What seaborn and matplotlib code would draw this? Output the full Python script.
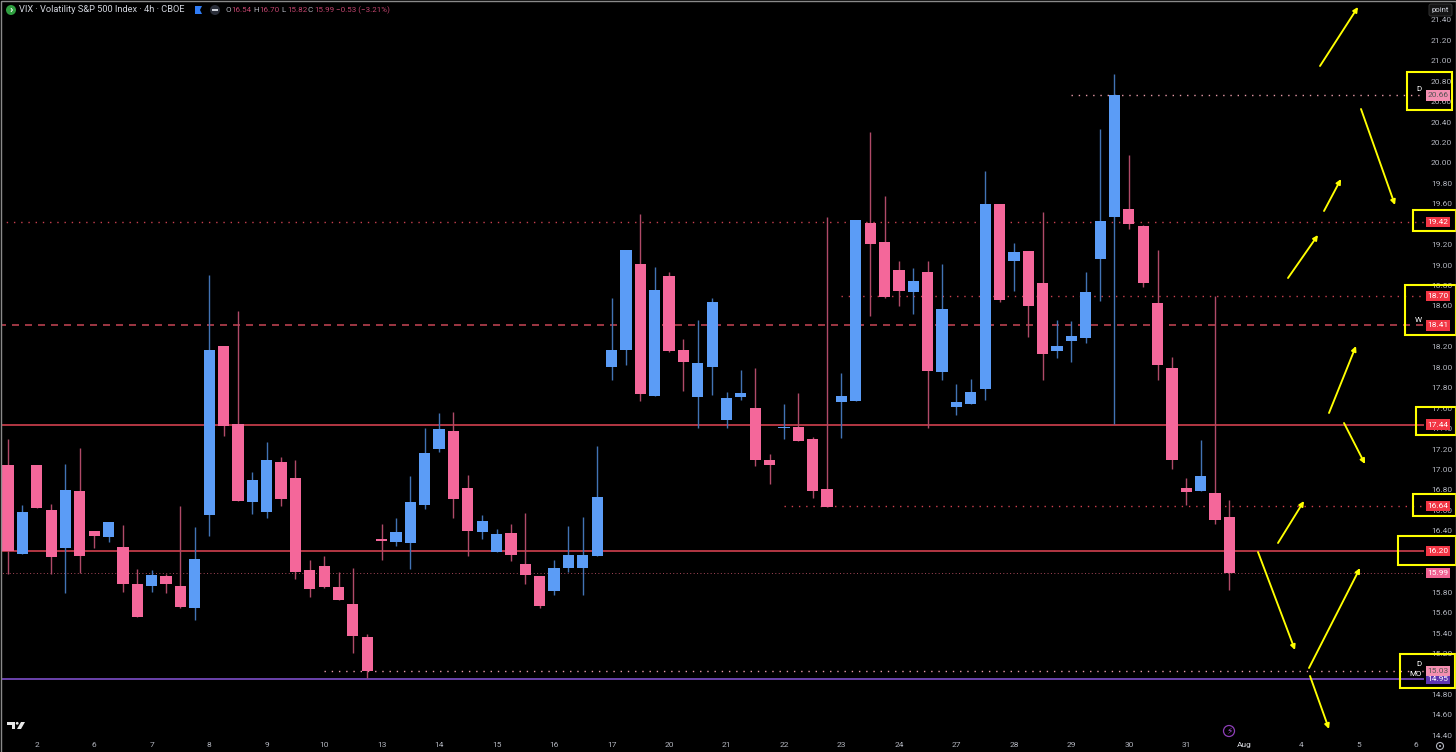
#!/usr/bin/env python

import pandas as pd
import matplotlib.pyplot as plt
import seaborn as sns

from matplotlib.patches import Rectangle, FancyArrowPatch, FancyBboxPatch, Circle, Polygon
from matplotlib.transforms import Affine2D

# VIX 4h candles
opens = [17.04, 16.17, 17.04, 16.60, 16.23, 16.79, 16.40, 16.34, 16.24, 15.88,
         15.86, 15.96, 15.86, 15.64, 16.55, 18.21, 17.45, 16.68, 16.58, 17.07,
         16.92, 16.02, 16.06, 15.85, 15.68, 15.36, 16.32, 16.29, 16.28, 16.65,
         17.20, 17.38, 16.82, 16.39, 16.19, 16.38, 16.08, 15.96, 15.81, 16.04,
         16.04, 16.15, 18.00, 18.17, 19.01, 17.72, 18.89, 18.17, 17.71, 18.00,
         17.48, 17.71, 17.60, 17.09, 17.41, 17.42, 17.30, 16.81, 17.66, 17.67,
         19.41, 19.23, 18.95, 18.74, 18.93, 17.95, 17.61, 17.64, 17.79, 19.60,
         19.04, 19.14, 18.82, 18.16, 18.26, 18.29, 19.06, 19.47, 19.55, 19.38,
         18.63, 17.99, 16.82, 16.79, 16.77, 16.54]
highs = [17.30, 16.65, 17.04, 16.66, 17.05, 17.21, 16.40, 16.49, 16.46, 16.03,
         16.02, 15.98, 16.64, 16.44, 18.90, 18.21, 18.55, 16.98, 17.27, 17.12,
         17.09, 16.11, 16.15, 16.00, 16.04, 15.39, 16.47, 16.53, 16.94, 17.41,
         17.55, 17.56, 16.95, 16.55, 16.42, 16.47, 16.57, 15.96, 16.11, 16.45,
         16.54, 17.23, 18.68, 19.15, 19.50, 18.98, 18.93, 18.28, 18.46, 18.68,
         17.76, 17.97, 17.99, 17.15, 17.64, 17.75, 17.32, 19.47, 17.94, 19.44,
         20.30, 19.68, 19.04, 18.97, 19.04, 19.01, 17.84, 17.89, 19.92, 19.60,
         19.22, 19.14, 19.52, 18.46, 18.45, 18.93, 20.33, 20.87, 20.08, 19.39,
         19.15, 18.10, 16.92, 17.29, 18.70, 16.70]
lows = [15.98, 16.17, 16.62, 15.98, 15.79, 15.99, 16.23, 16.29, 15.80, 15.56,
        15.80, 15.79, 15.64, 15.53, 16.35, 17.33, 16.69, 16.56, 16.53, 16.64,
        15.93, 15.75, 15.84, 15.72, 15.20, 14.96, 16.11, 16.25, 16.03, 16.61,
        17.17, 16.53, 16.15, 16.32, 16.19, 16.10, 15.88, 15.64, 15.77, 16.00,
        15.77, 16.15, 17.88, 18.02, 17.67, 17.72, 18.15, 17.77, 17.41, 17.73,
        17.41, 17.68, 17.03, 16.86, 17.30, 17.28, 16.72, 16.63, 17.31, 17.67,
        18.50, 18.68, 18.60, 18.52, 17.41, 17.88, 17.53, 17.64, 17.68, 18.64,
        18.75, 18.30, 17.88, 18.09, 18.05, 18.24, 18.65, 17.45, 19.35, 18.79,
        17.88, 17.00, 16.65, 16.79, 16.47, 15.82]
closes = [16.20, 16.58, 16.62, 16.14, 16.80, 16.15, 16.35, 16.49, 15.88, 15.56,
          15.97, 15.88, 15.65, 16.12, 18.17, 17.43, 16.69, 16.90, 17.09, 16.71,
          16.00, 15.83, 15.85, 15.72, 15.37, 15.03, 16.30, 16.39, 16.68, 17.16,
          17.40, 16.71, 16.40, 16.50, 16.37, 16.16, 15.97, 15.66, 16.04, 16.16,
          16.16, 16.73, 18.17, 19.15, 17.74, 18.76, 18.16, 18.05, 18.04, 18.64,
          17.70, 17.75, 17.09, 17.04, 17.42, 17.28, 16.79, 16.63, 17.72, 19.44,
          19.21, 18.69, 18.75, 18.84, 17.96, 18.57, 17.66, 17.76, 19.60, 18.66,
          19.13, 18.60, 18.13, 18.21, 18.31, 18.74, 19.43, 20.66, 19.40, 18.82,
          18.02, 17.09, 16.78, 16.94, 16.51, 15.99]

# horizontal levels
level_prices = [14.95, 15.03, 15.99, 16.20, 16.64, 17.44, 18.41, 18.70, 19.42, 20.66]
level_starts = [-1, 22, -1, -1, 54, -1, -1, 58, -1, 74]
level_kinds = ['solid', 'dots', 'fine', 'solid', 'dots', 'solid', 'dash', 'dots', 'dots', 'dots']
level_colors = ['#7e4fc9', '#e89aa8', '#a8485a', '#d0404f', '#d0404f', '#d0404f',
                '#b8404f', '#c8404f', '#c8404f', '#e89aa8']
tag_colors = ['#5e35b1', '#f48fb1', '#f06292', '#f23645', '#f23645', '#f23645',
              '#f23645', '#f23645', '#f23645', '#f48fb1']
tag_text_colors = ['white', '#555555', 'white', 'white', 'white', 'white',
                   'white', 'white', 'white', '#555555']

price_ticks = [14.4, 14.6, 14.8, 15.0, 15.2, 15.4, 15.6, 15.8, 16.0, 16.2, 16.4, 16.6,
               16.8, 17.0, 17.2, 17.4, 17.6, 17.8, 18.0, 18.2, 18.4, 18.6, 18.8, 19.0,
               19.2, 19.4, 19.6, 19.8, 20.0, 20.2, 20.4, 20.6, 20.8, 21.0, 21.2, 21.4]
# these sit fully behind a price tag in the screenshot
hidden_ticks = [15.0, 16.0, 16.2, 18.4, 19.4]
date_labels = ['2', '6', '7', '8', '9', '10', '13', '14', '15', '16', '17', '20', '21',
               '22', '23', '24', '27', '28', '29', '30', '31', 'Aug', '4', '5', '6']

BLUE = '#5b9cf6'
PINK = '#f4679a'
YELLOW = '#ffff00'
GREY = '#b2b5be'

sns.set_theme(style='dark', rc={'axes.facecolor': 'black', 'figure.facecolor': 'black',
                                'savefig.facecolor': 'black', 'axes.grid': False})
plt.rcParams['font.family'] = ['Roboto', 'DejaVu Sans']

df = pd.DataFrame({'open': opens, 'high': highs, 'low': lows, 'close': closes})
df['idx'] = df.index
df['body_low'] = df[['open', 'close']].min(axis=1)
df['body'] = (df.close - df.open).abs()
df['up'] = df.close >= df.open

fig = plt.figure(figsize=(14.56, 7.52), dpi=100)
ax = fig.add_axes([2 / 1456, (752 - 737) / 752, 1422 / 1456, 736 / 752])

# figure pixels, y going down like the screenshot
px = Affine2D().scale(1, -1).translate(0, 752)

for price, start, kind, color in zip(level_prices, level_starts, level_kinds, level_colors):
    style = {'solid': dict(ls='-', lw=1.2),
             'dots': dict(ls=(0, (1, 4.2)), lw=1.0),
             'fine': dict(ls=(0, (1, 2.5)), lw=0.7),
             'dash': dict(ls=(0, (4.2, 3.6)), lw=1.2)}[kind]
    ax.plot([start, 99], [price, price], color=color, zorder=1, **style)

for up, color, wick in [(True, BLUE, '#4273b4'), (False, PINK, '#b04a68')]:
    sub = df[df.up == up]
    ax.vlines(sub.idx, sub.low, sub.high, colors=wick, lw=1.0, zorder=2)
    sns.barplot(data=sub, x='idx', y='body', bottom=sub.body_low, native_scale=True,
                color=color, saturation=1, width=0.78, errorbar=None, linewidth=0,
                zorder=3, ax=ax)

ax.set_xlim((2 - 8) / 14.37, (1424 - 8) / 14.37)
ax.set_ylim(21.594 - 0.009785 * 737, 21.594 - 0.009785 * 1)
for spine in ax.spines.values():
    spine.set_visible(False)

ax.yaxis.tick_right()
ax.set_yticks(price_ticks)
ax.set_yticklabels(['' if t in hidden_ticks else f'{t:.2f}' for t in price_ticks], color=GREY, fontsize=6)
ax.set_xticks(range(2, 100, 4))
ax.set_xticklabels(date_labels, color=GREY, fontsize=6)
ax.get_xticklabels()[21].set_color('#d8dae0')
ax.tick_params(axis='y', length=0, pad=5)
ax.tick_params(axis='x', length=0, pad=3.5)
ax.set_xlabel('')
ax.set_ylabel('')

# price tags on the scale
for price, color, text_color in zip(level_prices, tag_colors, tag_text_colors):
    ax.add_patch(Rectangle((1.0014, price - 0.05), 0.0169, 0.1, facecolor=color, edgecolor='none',
                           transform=ax.get_yaxis_transform(), clip_on=False, zorder=5))
    ax.text(1.0098, price, f'{price:.2f}', color=text_color, fontsize=6, ha='center', va='center',
            transform=ax.get_yaxis_transform(), clip_on=False, zorder=6)

# yellow boxes and arrows drawn over the chart
boxes = [(1407, 72, 1452, 110), (1413, 210, 1456, 231), (1405, 285, 1456, 335),
         (1416, 407, 1456, 435), (1413, 494, 1456, 516), (1398, 536, 1456, 565),
         (1400, 654, 1455, 688)]
for x0, y0, x1, y1 in boxes:
    fig.add_artist(Rectangle((x0, y0), x1 - x0, y1 - y0, fill=False, edgecolor=YELLOW, lw=1.5,
                             transform=px, zorder=8))

arrows = [((1320, 66), (1358, 7)), ((1361, 109), (1395, 205)), ((1324, 211), (1341, 179)),
          ((1288, 278), (1318, 235)), ((1329, 413), (1356, 346)), ((1344, 423), (1365, 464)),
          ((1278, 543), (1304, 501)), ((1258, 552), (1295, 650)), ((1309, 668), (1360, 568)),
          ((1310, 676), (1329, 729))]
for tail, head in arrows:
    fig.add_artist(FancyArrowPatch(tail, head, arrowstyle='-|>', mutation_scale=7, color=YELLOW,
                                   lw=1.35, shrinkA=0, shrinkB=0, transform=px, zorder=8))

for x, y, s in [(1419, 89, 'D'), (1418, 320, 'W'), (1419, 664, 'D'), (1416, 674, 'MO')]:
    fig.text(x, y, s, color='white', fontsize=5.8, ha='center', va='center', transform=px, zorder=9)

# header row
fig.add_artist(Circle((11, 10), 5, facecolor='#2e9e3f', edgecolor='none', transform=px))
fig.text(11, 10, '›', color='white', fontsize=8, fontweight='bold', ha='center', va='center', transform=px)
fig.text(19, 10, 'VIX · Volatility S&P 500 Index · 4h · CBOE', color='#d1d4dc', fontsize=6.7,
         va='center', transform=px)
fig.add_artist(Polygon([(195, 6), (202, 6), (200, 10), (202, 14), (195, 14)], facecolor='#2f7cf6',
                       edgecolor='none', transform=px))
fig.add_artist(Circle((215, 10), 5, facecolor='#2a2e39', edgecolor='none', transform=px))
fig.add_artist(Rectangle((212, 9), 6, 2, facecolor='#d1d4dc', edgecolor='none', transform=px))
header_bits = [(225, 'O', GREY), (231, '16.54', '#c2456e'), (253, 'H', GREY), (259, '16.70', '#c2456e'),
               (281, 'L', GREY), (287, '15.82', '#c2456e'), (308, 'C', GREY), (314, '15.99', '#c2456e'),
               (336, '−0.53 (−3.21%)', '#c2456e')]
for x, s, color in header_bits:
    fig.text(x, 10, s, color=color, fontsize=5.8, va='center', transform=px)

# "point" button
fig.add_artist(FancyBboxPatch((1429, 4), 23, 12, boxstyle='round,pad=0,rounding_size=2', facecolor='#141414',
                              edgecolor='#333333', lw=0.7, transform=px, zorder=7))
fig.text(1440.5, 10, 'point', color='#d1d4dc', fontsize=5.6, ha='center', va='center', transform=px, zorder=8)

# logo and small icons
fig.add_artist(Polygon([(7, 722), (15, 722), (15, 729), (11.5, 729), (11.5, 724.5), (7, 724.5)],
                       facecolor='#e8e8e8', edgecolor='none', transform=px))
fig.add_artist(Circle((17.2, 723.3), 1.4, facecolor='#e8e8e8', edgecolor='none', transform=px))
fig.add_artist(Polygon([(21, 722), (25, 722), (21, 729), (17, 729)], facecolor='#e8e8e8',
                       edgecolor='none', transform=px))
fig.add_artist(Circle((1229, 731), 5.5, fill=False, edgecolor='#8e3fb8', lw=0.9, transform=px))
fig.text(1229, 731, '⚡', color='#a04ed0', fontsize=6.5, ha='center', va='center',
         family=['DejaVu Sans'], transform=px)
fig.add_artist(Circle((1440, 746), 3.5, fill=False, edgecolor=GREY, lw=0.8, transform=px))
fig.add_artist(Circle((1440, 746), 1, facecolor=GREY, edgecolor='none', transform=px))

# thin window edge of the screenshot
fig.add_artist(Rectangle((0.5, 0.5), 1455, 760, fill=False, edgecolor='#8a8a8a', lw=1.0, transform=px, zorder=10))

fig.savefig('out.png', dpi=100)
